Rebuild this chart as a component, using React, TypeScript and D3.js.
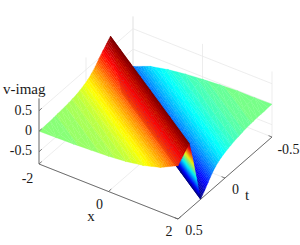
import React from 'react';
import * as d3 from 'd3';

// axis ticks
const xTicks = [-2, 0, 2];
const tTicks = [-0.5, 0, 0.5];
const zTicks = [-0.5, 0, 0.5];

// sample positions of the surface
const xSamples = [-2, -1.5, -1, -0.5, 0, 0.5, 1, 1.5, 2];
const tSamples = [-0.5, -0.46, -0.42, -0.38, -0.34, -0.3, -0.26, -0.22, -0.18, -0.14, -0.1, -0.06, -0.02,
    0.02, 0.06, 0.1, 0.14, 0.18, 0.22, 0.26, 0.3, 0.34, 0.38, 0.42, 0.46, 0.5];

// v-imag, one list per x sample, in order of tSamples
const vAtXm20 = [-.42, -.55, -.68, -.8, -.25, .3, .8, .7, .6, .5, .38, .29, .22, .17, .13, .1, .08, .06, .05, .04, .03, .02, .01, .01, 0, 0];
const vAtXm15 = [-.25, -.32, -.42, -.55, -.68, -.8, -.25, .3, .8, .7, .6, .5, .38, .29, .22, .17, .13, .1, .08, .06, .05, .04, .03, .02, .01, .01];
const vAtXm10 = [-.16, -.2, -.25, -.32, -.42, -.55, -.68, -.8, -.25, .3, .8, .7, .6, .5, .38, .29, .22, .17, .13, .1, .08, .06, .05, .04, .03, .02];
const vAtXm05 = [-.1, -.13, -.16, -.2, -.25, -.32, -.42, -.55, -.68, -.8, -.25, .3, .8, .7, .6, .5, .38, .29, .22, .17, .13, .1, .08, .06, .05, .04];
const vAtX00 = [-.06, -.08, -.1, -.13, -.16, -.2, -.25, -.32, -.42, -.55, -.68, -.8, -.25, .3, .8, .7, .6, .5, .38, .29, .22, .17, .13, .1, .08, .06];
const vAtX05 = [-.03, -.04, -.06, -.08, -.1, -.13, -.16, -.2, -.25, -.32, -.42, -.55, -.68, -.8, -.25, .3, .8, .7, .6, .5, .38, .29, .22, .17, .13, .1];
const vAtX10 = [-.01, -.02, -.03, -.04, -.06, -.08, -.1, -.13, -.16, -.2, -.25, -.32, -.42, -.55, -.68, -.8, -.25, .3, .8, .7, .6, .5, .38, .29, .22, .17];
const vAtX15 = [-.01, -.01, -.01, -.02, -.03, -.04, -.06, -.08, -.1, -.13, -.16, -.2, -.25, -.32, -.42, -.55, -.68, -.8, -.25, .3, .8, .7, .6, .5, .38, .29];
const vAtX20 = [0, 0, -.01, -.01, -.01, -.02, -.03, -.04, -.06, -.08, -.1, -.13, -.16, -.2, -.25, -.32, -.42, -.55, -.68, -.8, -.25, .3, .8, .7, .6, .5];
const vColumns = [vAtXm20, vAtXm15, vAtXm10, vAtXm05, vAtX00, vAtX05, vAtX10, vAtX15, vAtX20];

const serif = '"Liberation Serif", serif';
const axisColor = '#5f5f5f';
const gridColor = '#e8e8e8';
const levels = 64;

// oblique projection, each data axis moves the pixel along its own direction
const xToPx = d3.scaleLinear().domain([-2, 2]).range([39, 178]);
const xToPy = d3.scaleLinear().domain([-2, 2]).range([164, 219]);
const tToPx = d3.scaleLinear().domain([0.5, -0.5]).range([0, 94]);
const tToPy = d3.scaleLinear().domain([0.5, -0.5]).range([0, -82]);
const zToPy = d3.scaleLinear().domain([-0.8, 0.8]).range([0, -65.6]);

type P3 = [number, number, number];

const project = ([x, t, z]: P3): [number, number] => [
    xToPx(x) + tToPx(t),
    xToPy(x) + tToPy(t) + zToPy(z),
];

// bigger means closer to the viewer
const depth = ([x, t, z]: P3) => 3854 * x + 1425 * t + 4142 * z;

const jet = d3.scaleLinear<string>()
    .domain([0, 0.125, 0.375, 0.625, 0.875, 1])
    .range(['#00007f', '#0000ff', '#00ffff', '#ffff00', '#ff0000', '#7f0000']);
const zColor = d3.scaleQuantize<string>()
    .domain([-0.8, 0.8])
    .range(d3.range(levels).map((i) => jet(i / (levels - 1))));

const vertex = (i: number, k: number): P3 => [xSamples[i], tSamples[k], vColumns[i][k]];

/** Mesh follows the ridge, which moves two t samples per x sample */
function buildTriangles(): P3[][] {
    const tris: P3[][] = [];
    const last = tSamples.length - 1;
    for (let i = 0; i < xSamples.length - 1; i++) {
        tris.push([vertex(i, 0), vertex(i + 1, 0), vertex(i + 1, 1)]);
        tris.push([vertex(i, 0), vertex(i + 1, 1), vertex(i + 1, 2)]);
        for (let k = 0; k + 3 <= last; k++) {
            tris.push([vertex(i, k), vertex(i, k + 1), vertex(i + 1, k + 3)]);
            tris.push([vertex(i, k), vertex(i + 1, k + 3), vertex(i + 1, k + 2)]);
        }
        tris.push([vertex(i, last - 2), vertex(i, last - 1), vertex(i + 1, last)]);
        tris.push([vertex(i, last - 1), vertex(i, last), vertex(i + 1, last)]);
    }
    return tris;
}

/** Keep the part of a polygon on one side of a z level */
function clipZ(poly: P3[], level: number, keepAbove: boolean): P3[] {
    const out: P3[] = [];
    const inside = (p: P3) => (keepAbove ? p[2] >= level : p[2] <= level);
    poly.forEach((p, i) => {
        const q = poly[(i + 1) % poly.length];
        if (inside(p)) out.push(p);
        if (inside(p) !== inside(q)) {
            const f = (level - p[2]) / (q[2] - p[2]);
            out.push([p[0] + (q[0] - p[0]) * f, p[1] + (q[1] - p[1]) * f, level]);
        }
    });
    return out;
}

/** Cut a triangle along the colour levels so the bands show up */
function bands(tri: P3[]): P3[][] {
    const step = 1.6 / levels;
    const zs = tri.map((p) => p[2]);
    const from = Math.floor((d3.min(zs)! + 0.8) / step);
    const to = Math.ceil((d3.max(zs)! + 0.8) / step);
    const out: P3[][] = [];
    for (let l = from; l < Math.max(to, from + 1); l++) {
        const lo = -0.8 + l * step;
        const piece = clipZ(clipZ(tri, lo, true), lo + step, false);
        if (piece.length >= 3) out.push(piece);
    }
    return out;
}

const centroid = (poly: P3[]): P3 =>
    [0, 1, 2].map((d) => d3.mean(poly, (p) => p[d])!) as P3;

const pieces = buildTriangles()
    .flatMap(bands)
    .map((poly) => {
        const c = centroid(poly);
        return {
            d: 'M' + poly.map((p) => project(p).map((v) => v.toFixed(2)).join(',')).join('L') + 'Z',
            color: zColor(c[2]),
            depth: depth(c),
        };
    })
    .sort((a, b) => d3.ascending(a.depth, b.depth));

const line = (a: P3, b: P3) => {
    const [x1, y1] = project(a);
    const [x2, y2] = project(b);
    return {x1, y1, x2, y2};
};

const Label = ({x, y, anchor = 'middle', size = 14, children}: any) => (
    <text x={x} y={y} textAnchor={anchor} fontFamily={serif} fontSize={size} fill="#1a1a1a">{children}</text>
);

export default function App() {
    const grid = [
        ...zTicks.flatMap((z) => [line([-2, 0.5, z], [-2, -0.5, z]), line([-2, -0.5, z], [2, -0.5, z])]),
        ...xTicks.map((x) => line([x, 0.5, -0.8], [x, -0.5, -0.8])),
        ...xTicks.map((x) => line([x, -0.5, -0.8], [x, -0.5, 0.8])),
        ...tTicks.map((t) => line([-2, t, -0.8], [2, t, -0.8])),
        ...tTicks.map((t) => line([-2, t, -0.8], [-2, t, 0.8])),
    ];
    const axes = [
        line([-2, 0.5, -0.8], [-2, 0.5, 0.8]),
        line([-2, 0.5, -0.8], [2, 0.5, -0.8]),
        line([2, 0.5, -0.8], [2, -0.5, -0.8]),
    ];
    const ticks = [
        ...zTicks.map((z) => line([-2, 0.5, z], [-2, 0.47, z])),
        ...xTicks.map((x) => line([x, 0.5, -0.8], [x, 0.47, -0.8])),
        ...tTicks.map((t) => line([2, t, -0.8], [1.9, t, -0.8])),
    ];
    return (
        <svg width={300} height={245} style={{position: 'absolute', left: 0, top: 0}}>
            {grid.map((l, i) => <line key={i} {...l} stroke={gridColor} strokeWidth={0.8}/>)}
            {pieces.map((p, i) => <path key={i} d={p.d} fill={p.color} stroke={p.color} strokeWidth={0.3}/>)}
            {axes.map((l, i) => <line key={i} {...l} stroke={axisColor} strokeWidth={0.9}/>)}
            {ticks.map((l, i) => <line key={i} {...l} stroke={axisColor} strokeWidth={0.8}/>)}

            <Label x={3} y={94} anchor="start" size={15}>v-imag</Label>
            <Label x={32} y={115} anchor="end">0.5</Label>
            <Label x={32} y={134.5} anchor="end">0</Label>
            <Label x={32} y={154.5} anchor="end">-0.5</Label>

            <Label x={27.5} y={183}>-2</Label>
            <Label x={99.5} y={209}>0</Label>
            <Label x={169} y={236}>2</Label>
            <Label x={91} y={221} size={15}>x</Label>

            <Label x={194} y={235}>0.5</Label>
            <Label x={235.5} y={194}>0</Label>
            <Label x={288.5} y={153.5}>-0.5</Label>
            <Label x={247} y={200} size={15}>t</Label>
        </svg>
    );
}
